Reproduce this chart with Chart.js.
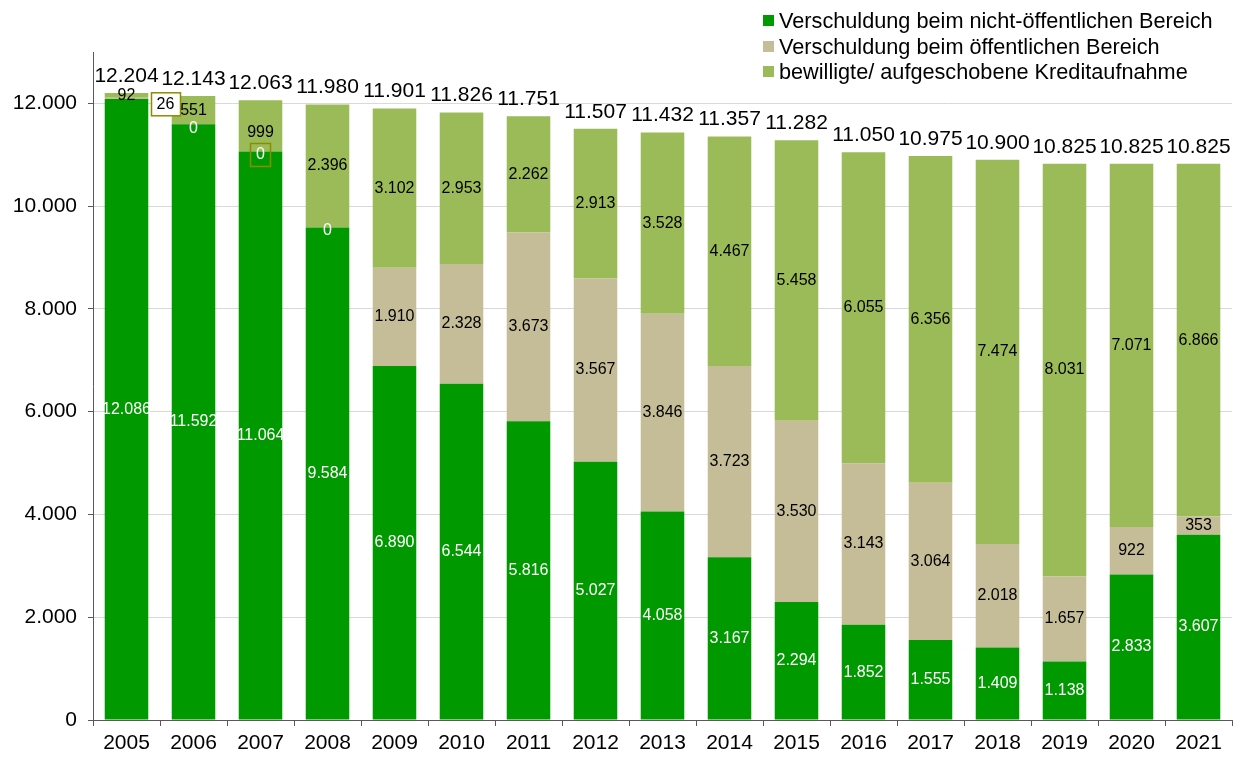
<!DOCTYPE html>
<html>
<head>
<meta charset="utf-8">
<script src="https://cdn.jsdelivr.net/npm/chart.js@4/dist/chart.umd.min.js"></script>
<style>
  html, body { margin: 0; padding: 0; background: #fff; }
  #wrap { position: relative; width: 1240px; height: 758px; }
  #legend { position: absolute; left: 763px; top: 8px; font-family: "Liberation Sans", Arial, sans-serif; font-size: 21.7px; color: #000; line-height: 25.5px; }
  #legend .it { display: flex; align-items: center; white-space: nowrap; }
  #legend .sw { width: 11px; height: 11px; margin-right: 5px; display: inline-block; }
</style>
</head>
<body>
<div id="wrap">
  <canvas id="c" width="1240" height="758"></canvas>
  <div id="legend"></div>
</div>
<script>
const years = ["2005","2006","2007","2008","2009","2010","2011","2012","2013","2014","2015","2016","2017","2018","2019","2020","2021"];
const nichtOeffentlich = [12086, 11592, 11064, 9584, 6890, 6544, 5816, 5027, 4058, 3167, 2294, 1852, 1555, 1409, 1138, 2833, 3607];
const oeffentlich = [26, 0, 0, 0, 1910, 2328, 3673, 3567, 3846, 3723, 3530, 3143, 3064, 2018, 1657, 922, 353];
const bewilligt = [92, 551, 999, 2396, 3102, 2953, 2262, 2913, 3528, 4467, 5458, 6055, 6356, 7474, 8031, 7071, 6866];
const totals = [12204, 12143, 12063, 11980, 11901, 11826, 11751, 11507, 11432, 11357, 11282, 11050, 10975, 10900, 10825, 10825, 10825];
const seriesNames = ["Verschuldung beim nicht-öffentlichen Bereich", "Verschuldung beim öffentlichen Bereich", "bewilligte/ aufgeschobene Kreditaufnahme"];
const colors = ["#009900", "#C4BD97", "#9BBB59"];
const yTicks = [0, 2000, 4000, 6000, 8000, 10000, 12000];

function fmt(v) {
  const s = String(Math.round(v));
  return s.replace(/\B(?=(\d{3})+(?!\d))/g, ".");
}

const FONT = '"Liberation Sans", Arial, sans-serif';

// legend
const leg = document.getElementById('legend');
seriesNames.forEach((n, i) => {
  const d = document.createElement('div');
  d.className = 'it';
  d.innerHTML = '<span class="sw" style="background:' + colors[i] + '"></span><span>' + n + '</span>';
  leg.appendChild(d);
});

const labelPlugin = {
  id: 'labels',
  afterDatasetsDraw(chart) {
    const ctx = chart.ctx;
    const yS = chart.scales.y;
    ctx.save();
    ctx.textAlign = 'center';
    ctx.textBaseline = 'middle';
    ctx.font = '16px ' + FONT;
    chart.data.datasets.forEach((ds, di) => {
      const meta = chart.getDatasetMeta(di);
      meta.data.forEach((bar, i) => {
        const v = ds.data[i];
        const top = bar.y, bottom = bar.base;
        let cx = bar.x, cy = (top + bottom) / 2;
        const txt = fmt(v);
        if (di === 0) {
          ctx.fillStyle = '#fff';
          ctx.fillText(txt, cx, cy);
        } else if (di === 1) {
          if (v === 0) {
            cy += 3;
            if (i === 1) { cy = top + 4; }
            ctx.fillStyle = '#fff';
            if (i === 2) {
              ctx.strokeStyle = '#8C8C00';
              ctx.lineWidth = 1.5;
              ctx.strokeRect(cx - 10, cy - 11, 20, 23);
            }
            ctx.fillText(txt, cx, cy);
          } else if (i === 0) {
            cx += 39; cy += 6;
            ctx.fillStyle = '#fff';
            ctx.fillRect(cx - 14, cy - 11.5, 29, 23);
            ctx.strokeStyle = '#8C8C00';
            ctx.lineWidth = 1.5;
            ctx.strokeRect(cx - 14, cy - 11.5, 29, 23);
            ctx.fillStyle = '#000';
            ctx.fillText(txt, cx, cy);
          } else {
            ctx.fillStyle = '#000';
            ctx.fillText(txt, cx, cy);
          }
        } else {
          if (i === 2) cy += 7;
          ctx.fillStyle = '#000';
          ctx.fillText(txt, cx, cy);
        }
      });
    });
    // totals
    ctx.font = '21px ' + FONT;
    ctx.fillStyle = '#000';
    ctx.textBaseline = 'middle';
    const meta0 = chart.getDatasetMeta(0);
    totals.forEach((t, i) => {
      const x = meta0.data[i].x;
      const y = yS.getPixelForValue(t) - 17;
      ctx.fillText(fmt(t), x, y);
    });
    ctx.restore();
  }
};

new Chart(document.getElementById('c'), {
  type: 'bar',
  data: {
    labels: years,
    datasets: [
      { label: seriesNames[0], data: nichtOeffentlich, backgroundColor: colors[0] },
      { label: seriesNames[1], data: oeffentlich, backgroundColor: colors[1] },
      { label: seriesNames[2], data: bewilligt, backgroundColor: colors[2] }
    ]
  },
  options: {
    responsive: false,
    animation: false,
    devicePixelRatio: 1,
    layout: { padding: { top: 52, right: 8, left: 0, bottom: 0 } },
    datasets: { bar: { barPercentage: 0.65, categoryPercentage: 1.0, borderWidth: 0 } },
    plugins: { legend: { display: false }, tooltip: { enabled: false } },
    scales: {
      x: {
        stacked: true,
        grid: { display: true, drawOnChartArea: false, offset: true, tickLength: 6, color: '#595959', tickColor: '#595959' },
        border: { display: true, color: '#595959', width: 1 },
        ticks: { color: '#000', font: { family: FONT, size: 21 }, padding: 5, maxRotation: 0 },
        afterFit(s) { s.height = 38; }
      },
      y: {
        stacked: true,
        min: 0, max: 13000,
        afterBuildTicks(s) { s.ticks = yTicks.map(v => ({ value: v })); },
        grid: { color: '#D9D9D9', tickColor: '#595959', tickLength: 5, lineWidth: 1 },
        border: { display: true, color: '#595959', width: 1 },
        ticks: { color: '#000', font: { family: FONT, size: 21 }, padding: 11, callback: v => fmt(v) },
        afterFit(s) { s.width = 93; }
      }
    }
  },
  plugins: [labelPlugin]
});
</script>
</body>
</html>
